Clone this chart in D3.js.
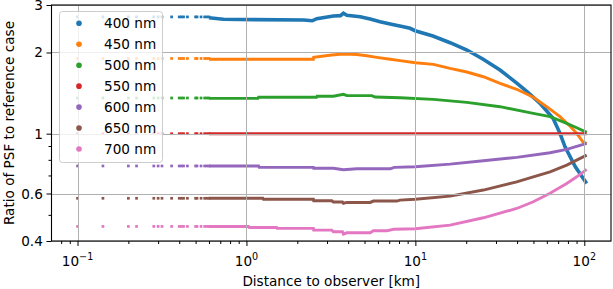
<!DOCTYPE html>
<html><head><meta charset="utf-8">
<script src="https://cdn.jsdelivr.net/npm/d3@7"></script>
<style>
body{margin:0;background:#fff}
svg{display:block}
text{font-family:"DejaVu Sans",sans-serif;fill:#000}
</style>
</head><body>
<svg id="chart" width="613" height="289"></svg>
<script>
// ---------- data ----------
const wavelengths = ["400 nm","450 nm","500 nm","550 nm","600 nm","650 nm","700 nm"];
const colors = ["#1f77b4","#ff7f0e","#2ca02c","#d62728","#9467bd","#8c564b","#e377c2"];

// isolated grid distances near the observer [km]
const sparseDistances = [0.1,0.1414,0.2,0.2236,0.2828,0.3,0.3162,0.3606,0.4,0.4123,0.4243,0.4472,0.5,0.5099,0.5385,0.5657,0.5831,0.6];
// ratio at those short distances, one value per wavelength
const flatRatio = [2.71,1.90,1.356,1.0,0.759,0.576,0.453];

// [distance km, ratio] along the dense part of each series
const series400 = [[0.6,2.69],[0.73,2.655],[2.18,2.638],[2.45,2.622],[2.61,2.669],[3.27,2.73],[3.6,2.74],[3.75,2.795],[3.93,2.747],[4.71,2.715],[5.40,2.662],[6.18,2.602],[7.09,2.551],[8.49,2.492],[9.3,2.459],[9.96,2.409],[12.7,2.302],[16.05,2.174],[20.2,2.042],[25.2,1.887],[31.7,1.722],[40.0,1.537],[45.8,1.431],[54.7,1.296],[65.3,1.140],[71.8,1.003],[76.9,0.894],[88.5,0.754],[103.3,0.654]];
const series450 = [[0.6,1.888],[2.49,1.887],[2.5,1.919],[3.2,1.957],[3.75,1.974],[4.5,1.966],[5.16,1.945],[5.91,1.919],[7.09,1.887],[8.12,1.865],[9.99,1.833],[12.78,1.807],[16.05,1.746],[20.15,1.693],[25.26,1.626],[31.7,1.537],[39.8,1.461],[49.9,1.364],[59.9,1.259],[71.8,1.156],[83.0,1.061],[90.2,1.003],[97.8,0.935],[103.3,0.92]];
const series500 = [[0.6,1.352],[1.17,1.352],[1.18,1.364],[2.6,1.364],[2.62,1.376],[3.27,1.376],[3.75,1.399],[3.93,1.384],[5.52,1.384],[5.77,1.367],[8.12,1.359],[12.78,1.34],[20.15,1.307],[31.7,1.259],[49.9,1.19],[62.7,1.156],[78.7,1.092],[90.2,1.052],[103.3,1.011]];
const series550 = [[0.6,1.0],[103.3,1.0]];
const series600 = [[0.6,0.759],[1.18,0.759],[1.19,0.750],[2.49,0.750],[2.5,0.744],[3.27,0.744],[3.75,0.735],[4.5,0.741],[7.09,0.741],[7.5,0.750],[9.99,0.754],[16.05,0.771],[25.26,0.794],[39.8,0.817],[62.7,0.85],[78.7,0.875],[103.3,0.921]];
const series650 = [[0.6,0.576],[1.25,0.576],[1.26,0.571],[2.49,0.571],[2.5,0.564],[3.2,0.564],[3.27,0.558],[3.7,0.558],[3.75,0.552],[3.93,0.556],[5.4,0.556],[5.64,0.5625],[7.76,0.5625],[8.12,0.567],[9.99,0.571],[16.05,0.587],[25.26,0.618],[39.8,0.663],[49.9,0.692],[62.7,0.722],[78.7,0.765],[103.3,0.833]];
const series700 = [[0.6,0.453],[1.03,0.453],[1.04,0.449],[1.51,0.449],[1.52,0.4454],[2.49,0.4454],[2.5,0.439],[3.2,0.439],[3.27,0.4327],[3.7,0.4327],[3.75,0.4243],[3.93,0.429],[5.4,0.429],[5.64,0.4364],[6.77,0.4364],[7.42,0.442],[9.99,0.444],[16.05,0.458],[25.26,0.4877],[39.8,0.528],[49.9,0.559],[62.7,0.601],[78.7,0.654],[90.2,0.692],[103.3,0.737]];
const allSeries = [series400,series450,series500,series550,series600,series650,series700];

const yTickValues = [0.4,0.6,1,2,3];
const yTickLabels = ["0.4","0.6","1","2","3"];
const yMinorTicks = [0.5,0.7,0.8,0.9];
const xTickValues = [0.1,1,10,100];
const xTickExponents = ["\u22121","0","1","2"];
const xDomain = [0.07014,143.9];
const yDomain = [0.4,3];
const xLabel = "Distance to observer [km]";
const yLabel = "Ratio of PSF to reference case";

// ---------- layout ----------
const L = 51.5, R = 611, T = 5, B = 241;
const svg = d3.select("#chart");
const x = d3.scaleLog().domain(xDomain).range([L,R]);
const y = d3.scaleLog().domain(yDomain).range([B,T]);
const FS = 13.6;

svg.append("defs").append("clipPath").attr("id","clip")
  .append("rect").attr("x",L).attr("y",T).attr("width",R-L).attr("height",B-T);

// ---------- data marks ----------
const dataG = svg.append("g").attr("clip-path","url(#clip)");
const line = d3.line().x(d=>x(d[0])).y(d=>y(d[1]));
const ms = 2.7;
allSeries.forEach((s,i)=>{
  const g = dataG.append("g");
  g.selectAll("rect").data(sparseDistances).join("rect")
    .attr("x",d=>x(d)-ms/2).attr("y",y(flatRatio[i])-ms/2)
    .attr("width",ms).attr("height",ms).attr("fill",colors[i]);
  g.append("path").datum(s).attr("d",line)
    .attr("fill","none").attr("stroke",colors[i])
    .attr("stroke-width", i===0 ? 3.6 : 2.9)
    .attr("stroke-linejoin","miter");
});

// ---------- grid (drawn above the scatter, as in the source) ----------
const grid = svg.append("g").attr("stroke","#b0b0b0").attr("stroke-width",1);
xTickValues.forEach(v=>{
  grid.append("line").attr("x1",Math.round(x(v))+0.5).attr("x2",Math.round(x(v))+0.5).attr("y1",T).attr("y2",B);
});
yTickValues.forEach(v=>{
  grid.append("line").attr("x1",L).attr("x2",R).attr("y1",Math.round(y(v))+0.5).attr("y2",Math.round(y(v))+0.5);
});

// ---------- axes ----------
const xMinor = x.ticks().filter(v=>!xTickValues.some(t=>Math.abs(t-v)/t<1e-6));
const xAxisG = svg.append("g").attr("transform",`translate(0,${B})`);
xAxisG.call(d3.axisBottom(x).tickValues(xMinor).tickSize(3).tickFormat(""));
const xMajor = svg.append("g").attr("transform",`translate(0,${B})`)
  .call(d3.axisBottom(x).tickValues(xTickValues).tickSize(5).tickFormat(""));
[xAxisG,xMajor].forEach(g=>{g.select(".domain").remove();g.selectAll("line").attr("stroke","#000").attr("stroke-width",1);});

xTickValues.forEach((v,i)=>{
  const t = svg.append("text").attr("x",x(v)).attr("y",265.5).attr("text-anchor","middle")
    .style("font-size",FS+"px");
  t.append("tspan").text("10");
  t.append("tspan").attr("dy",-5.8).style("font-size","9.6px").text(xTickExponents[i]);
});

const yAxisG = svg.append("g").attr("transform",`translate(${L},0)`);
yAxisG.call(d3.axisLeft(y).tickValues(yMinorTicks).tickSize(3).tickFormat(""));
const yMajor = svg.append("g").attr("transform",`translate(${L},0)`)
  .call(d3.axisLeft(y).tickValues(yTickValues).tickSize(5).tickFormat(""));
[yAxisG,yMajor].forEach(g=>{g.select(".domain").remove();g.selectAll("line").attr("stroke","#000").attr("stroke-width",1);});
yTickValues.forEach((v,i)=>{
  svg.append("text").attr("x",42.8).attr("y",y(v)+5).attr("text-anchor","end")
    .style("font-size",FS+"px").text(yTickLabels[i]);
});

// spines
svg.append("rect").attr("x",L).attr("y",T).attr("width",R-L).attr("height",B-T)
  .attr("fill","none").attr("stroke","#000").attr("stroke-width",1.1);

// axis labels
svg.append("text").attr("x",(L+R)/2).attr("y",285.5).attr("text-anchor","middle")
  .style("font-size",FS+"px").text(xLabel);
svg.append("text").attr("transform",`translate(13.5,${(T+B)/2}) rotate(-90)`)
  .attr("text-anchor","middle").style("font-size",FS+"px").text(yLabel);

// ---------- legend ----------
const lg = svg.append("g");
lg.append("rect").attr("x",59.5).attr("y",11.5).attr("width",103).attr("height",151).attr("rx",3)
  .attr("fill","rgba(255,255,255,0.8)").attr("stroke","#cccccc").attr("stroke-width",1);
wavelengths.forEach((w,i)=>{
  const cy = 23.3 + i*20.95;
  lg.append("circle").attr("cx",79).attr("cy",cy).attr("r",2.8).attr("fill",colors[i]);
  lg.append("text").attr("x",104).attr("y",cy+5).style("font-size",FS+"px").text(w);
});
</script>
</body></html>
